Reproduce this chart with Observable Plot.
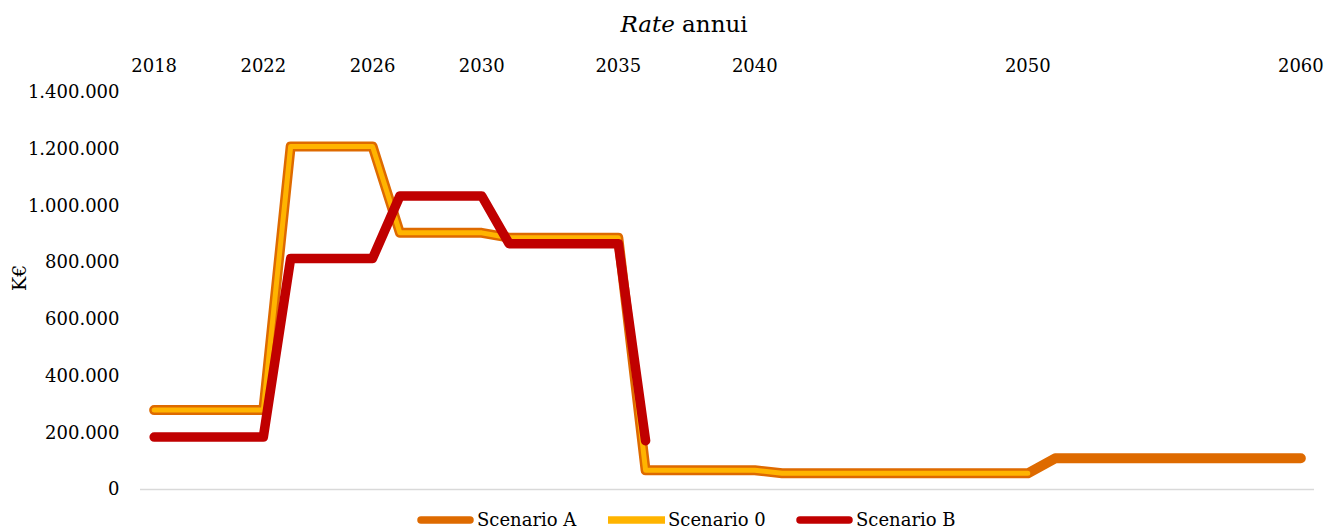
<!DOCTYPE html>
<html><head><meta charset="utf-8">
<script src="https://cdn.jsdelivr.net/npm/d3@7"></script>
<script src="https://cdn.jsdelivr.net/npm/@observablehq/plot@0.6"></script>
<style>
body{margin:0;background:#fff;font-family:"DejaVu Serif",Georgia,serif;color:#000}
#wrap{position:relative;width:1328px;height:530px;overflow:hidden}
#title{position:absolute;left:684px;top:9px;transform:translateX(-50%);font-size:23px;line-height:30px;white-space:nowrap}
#chart{position:absolute;left:0;top:44px}
.leg{position:absolute;top:510px;height:20px;display:flex;align-items:center;font-size:18px;line-height:20px;white-space:nowrap}
.leg svg{display:block;margin-right:3px}
</style>
</head><body>
<div id="wrap">
  <div id="title"><i>Rate</i> annui</div>
  <div id="chart"></div>
  <div id="legend"></div>
</div>
<script>
const years = [2018,2019,2020,2021,2022,2023,2024,2025,2026,2027,2028,2029,2030,2031,2032,2033,2034,2035,2036,2037,2038,2039,2040,2041,2042,2043,2044,2045,2046,2047,2048,2049,2050,2051,2052,2053,2054,2055,2056,2057,2058,2059,2060];
const scenarioA = [280000,280000,280000,280000,280000,1210000,1210000,1210000,1210000,905000,905000,905000,905000,888000,888000,888000,888000,888000,68000,68000,68000,68000,68000,57000,57000,57000,57000,57000,57000,57000,57000,57000,57000,110000,110000,110000,110000,110000,110000,110000,110000,110000,110000];
const scenario0 = [280000,280000,280000,280000,280000,1210000,1210000,1210000,1210000,905000,905000,905000,905000,888000,888000,888000,888000,888000,68000,68000,68000,68000,68000,57000,57000,57000,57000,57000,57000,57000,57000,57000,57000];
const scenarioB = [185000,185000,185000,185000,185000,815000,815000,815000,815000,1035000,1035000,1035000,1035000,867000,867000,867000,867000,867000,172000];
const seriesNames = ["Scenario A","Scenario 0","Scenario B"];
const seriesColors = ["#DE6A00","#FFB400","#C00000"];
const xTicks = [2018,2022,2026,2030,2035,2040,2050,2060];
const yTicks = [0,200000,400000,600000,800000,1000000,1200000,1400000];
const yLabel = "K€";

const toRows = vals => vals.map((v,i)=>({year:years[i], value:v}));
const fmt = d => d3.format(",")(d).replace(/,/g,".");

const chart = Plot.plot({
  width:1328, height:466,
  marginTop:48, marginBottom:21, marginLeft:140, marginRight:14,
  style:{fontFamily:"'DejaVu Serif', Georgia, serif", fontSize:"18px", color:"#000", background:"transparent", overflow:"visible"},
  x:{domain:[2017.5,2060.5], axis:null},
  y:{domain:[0,1400000], axis:null},
  marks:[
    Plot.ruleY([0], {stroke:"#d9d9d9", strokeWidth:1.5}),
    Plot.axisX({anchor:"top", ticks:xTicks, tickSize:0, tickPadding:21, tickFormat:d=>String(d), label:null, fill:"#000"}),
    Plot.axisY({anchor:"left", ticks:yTicks, tickSize:0, tickPadding:21, tickFormat:fmt, label:null, fill:"#000"}),
    Plot.text([yLabel], {frameAnchor:"left", dx:-121, rotate:-90, text:d=>d, fill:"#000", fontSize:19}),
    Plot.line(toRows(scenarioA), {x:"year", y:"value", stroke:seriesColors[0], strokeWidth:10, strokeLinejoin:"round", strokeLinecap:"round"}),
    Plot.line(toRows(scenario0), {x:"year", y:"value", stroke:seriesColors[1], strokeWidth:5, strokeLinejoin:"round", strokeLinecap:"round"}),
    Plot.line(toRows(scenarioB), {x:"year", y:"value", stroke:seriesColors[2], strokeWidth:9.5, strokeLinejoin:"round", strokeLinecap:"round"})
  ]
});
document.getElementById("chart").appendChild(chart);

// legend
const legPos = [417, 608, 796];
const caps = ["round","butt","round"];
const leg = document.getElementById("legend");
seriesNames.forEach((name,i)=>{
  const d = document.createElement("div");
  d.className = "leg";
  d.style.left = legPos[i] + "px";
  d.innerHTML = `<svg width="57" height="10"><line x1="${caps[i]==="round"?4:0}" y1="5" x2="${caps[i]==="round"?53:57}" y2="5" stroke="${seriesColors[i]}" stroke-width="7.5" stroke-linecap="${caps[i]}"/></svg><span>${name}</span>`;
  leg.appendChild(d);
});
</script>
</body></html>
